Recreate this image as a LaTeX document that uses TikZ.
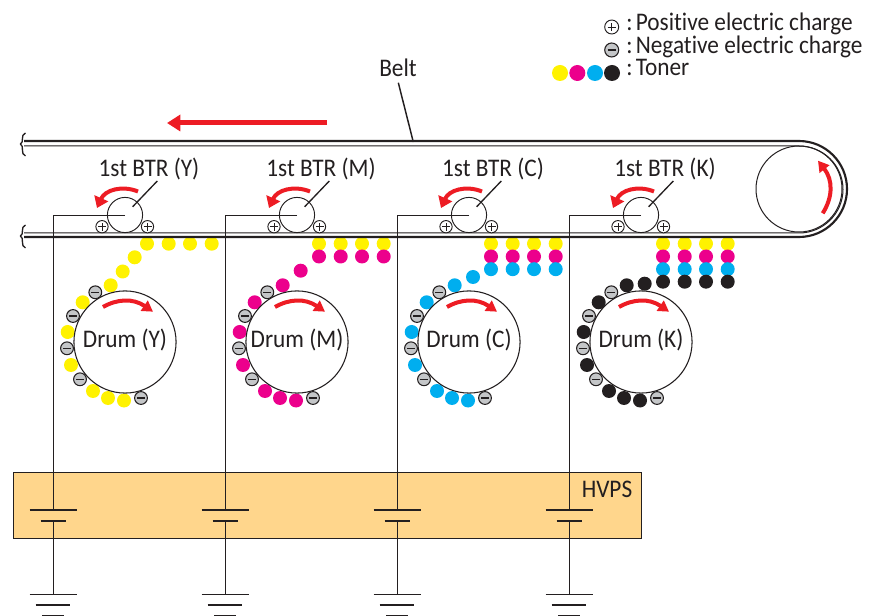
\documentclass[tikz,border=0pt]{standalone}
\usepackage{fontspec}
\setmainfont[FakeStretch=0.92,Ligatures=NoCommon]{Carlito}
\usetikzlibrary{arrows.meta}
\definecolor{ink}{HTML}{231F20}
\definecolor{tred}{HTML}{ED1C24}
\definecolor{ty}{HTML}{FFF200}
\definecolor{tm}{HTML}{EC008C}
\definecolor{tc}{HTML}{00AEEF}
\definecolor{tk}{HTML}{231F20}
\definecolor{hv}{HTML}{FFD68C}
\definecolor{ng}{HTML}{C4C6C8}
\tikzset{
  x=0.75pt,y=-0.75pt,
  txt/.style={text=ink,font=\fontsize{19}{21}\selectfont,inner sep=0pt},
  toner/.style={circle,fill=#1,minimum size=10.5pt,inner sep=0pt,draw=none},
  negc/.style={circle,draw=ink,line width=.8pt,fill=ng,minimum size=9.6pt,inner sep=0pt,
    path picture={\draw[ink,line width=.9pt] ([xshift=-3pt]path picture bounding box.center)--([xshift=3pt]path picture bounding box.center);}},
  posc/.style={circle,draw=ink,line width=.7pt,fill=white,minimum size=9.2pt,inner sep=0pt,
    path picture={\draw[ink,line width=.7pt] ([xshift=-3pt]path picture bounding box.center)--([xshift=3pt]path picture bounding box.center)
      ([yshift=-3pt]path picture bounding box.center)--([yshift=3pt]path picture bounding box.center);}},
  drumc/.style={circle,draw=ink,line width=.8pt,fill=white,minimum size=76.6pt,inner sep=0pt},
  btrc/.style={circle,draw=ink,line width=.7pt,fill=white,minimum size=26.4pt,inner sep=0pt},
  wire/.style={draw=ink,line width=.75pt},
  plate/.style={draw=ink,line width=.8pt},
  belta/.style={draw=ink,line width=1.6pt},
  beltb/.style={draw=ink,line width=.75pt},
  rarrow/.style={draw=tred,line width=3pt,-{Triangle[length=8pt,width=9pt]}},
}
\begin{document}
\begin{tikzpicture}
\useasboundingbox (0,0) rectangle (874,616);
% HVPS box
\node[draw=ink,line width=.9pt,fill=hv,minimum width=471pt,minimum height=49.2pt,inner sep=0pt,anchor=north west] (hvps) at (12.5,472) {};
\node[txt,anchor=center] (hvpslabel) at (607,489) {HVPS};
% toners, drums
\foreach \n/\cx/\lab/\col/\dx/\dy in {1/125/Y/ty/9.7/257.3,2/297/M/tm/3.7/270.7,3/469/C/tc/4/277,4/641/K/tk/3.7/283.7}{
  \foreach \ox/\oy in {-14.3/-56.7,-42.3/-39.7,-57.3/-10,-54/23,-32/49,-17/56,-1/58.5}
    \node[toner=\col] at (\cx+\ox,342+\oy) {};
  \node[toner=\col] at (\cx+\dx,\dy) {};
  \foreach \ox/\oy in {-29.7/-49.7,-52/-26,-58/6.3,-45/37.3,16/56}
    \node[negc] at (\cx+\ox,342+\oy) {};
  \node[drumc] (drum\n) at (\cx,342) {};
  \node[txt] (drumlabel\n) at (\cx,340) {Drum (\lab)};
  \draw[rarrow] (\cx-22,307) .. controls (\cx-8,299) and (\cx+8,298) .. (\cx+28,311.7);
}
% extra Y toner
\node[toner=ty] at (122.7,271.5) {};
% toner rows
\foreach \cx/\rows in {125/1,297/2,469/3,641/4}{
  \foreach \ox in {22,43.7,65,86.7}{
    \node[toner=ty] at (\cx+\ox,243.7) {};
    \ifnum\rows>1 \node[toner=tm] at (\cx+\ox,256.5) {};\fi
    \ifnum\rows>2 \node[toner=tc] at (\cx+\ox,269.2) {};\fi
    \ifnum\rows>3 \node[toner=tk] at (\cx+\ox,281.7) {};\fi
  }
}
% belt
\draw[belta] (24,141) -- (799,141) .. controls (825.5,141) and (847,162.5) .. (847,189) .. controls (847,215.5) and (825.5,237) .. (799,237) -- (24,237);
\draw[beltb] (24,146) -- (799,146) .. controls (823,146) and (843,165.3) .. (843,189.4) .. controls (843,213.5) and (823,233) .. (799,233) -- (24,233);
\foreach \y in {133,225}
  \draw[ink,line width=1pt] (25.5,\y) .. controls (20,\y+2) and (24.5,\y+9) .. (20.5,\y+11) .. controls (24.5,\y+13) and (20,\y+21) .. (25.5,\y+23);
\node[circle,draw=ink,line width=.75pt,minimum size=64.5pt,inner sep=0pt] (roller) at (799,189) {};
\draw[rarrow] (822.7,213.3) .. controls (833,197) and (833,180) .. (818,160.7);
\draw[rarrow,line width=3.75pt,-{Triangle[length=10pt,width=12pt]}] (327,123) -- (167,123);
% BTRs
\foreach \n/\cx/\wx/\lab in {1/125/53/Y,2/297/225/M,3/469/397/C,4/641/569/K}{
  \node[btrc] (btr\n) at (\cx,215) {};
  \node[posc] (pa\n) at (\cx-23,226.7) {};
  \node[posc] (pb\n) at (\cx+22.5,226.7) {};
  \node[txt] (btrlabel\n) at (\cx+24,169) {1st BTR (\lab)};
  \coordinate (lead\n) at (\cx+32.3,181);
  \draw[ink,line width=1pt] (lead\n) -- (\cx+7.6,206.8);
  \draw[rarrow,line width=3pt,-{Triangle[length=8pt,width=11pt]}] (\cx+13,191.5) .. controls (\cx-3,185) and (\cx-20,190) .. (\cx-28,208);
  \coordinate (corner\n) at (\wx,215.7);
  \coordinate (battop\n) at (\wx,510);
  \coordinate (batbot\n) at (\wx,521);
  \coordinate (gnd\n) at (\wx,594.7);
  \draw[wire] (\cx,215.7) -- (corner\n) -- (battop\n);
  \draw[wire] (batbot\n) -- (gnd\n);
  \draw[plate] (\wx-23.5,510) -- (\wx+23.5,510);
  \draw[plate] (\wx-12.5,521) -- (\wx+12.5,521);
  \draw[plate] (\wx-23.5,594.7) -- (\wx+23.5,594.7);
  \draw[plate] (\wx-17.3,605) -- (\wx+17.3,605);
  \draw[plate] (\wx-11,615.4) -- (\wx+11,615.4);
}
% Belt label
\node[txt] (beltlabel) at (398,68) {Belt};
\coordinate (beltpt) at (413.3,142);
\draw[ink,line width=1.1pt] (398.3,82.7) -- (beltpt);
% legend
\node[posc,minimum size=10.5pt] (lp) at (611.7,27) {};
\node[negc,minimum size=10.5pt] (ln) at (611.7,50) {};
\node[toner=ty,minimum size=12pt] (l1) at (560,73) {};
\node[toner=tm,minimum size=12pt] (l2) at (577.3,73) {};
\node[toner=tc,minimum size=12pt] (l3) at (595,73) {};
\node[toner=tk,minimum size=12pt] (l4) at (612,73) {};
\node[txt,anchor=base west] (t1) at (626,31) {:\kern-1.5pt\ Positive electric charge};
\node[txt,anchor=base west] (t2) at (626,54) {:\kern-1.5pt\ Negative electric charge};
\node[txt,anchor=base west] (t3) at (626,76) {:\kern-1.5pt\ Toner};
\end{tikzpicture}
\end{document}
